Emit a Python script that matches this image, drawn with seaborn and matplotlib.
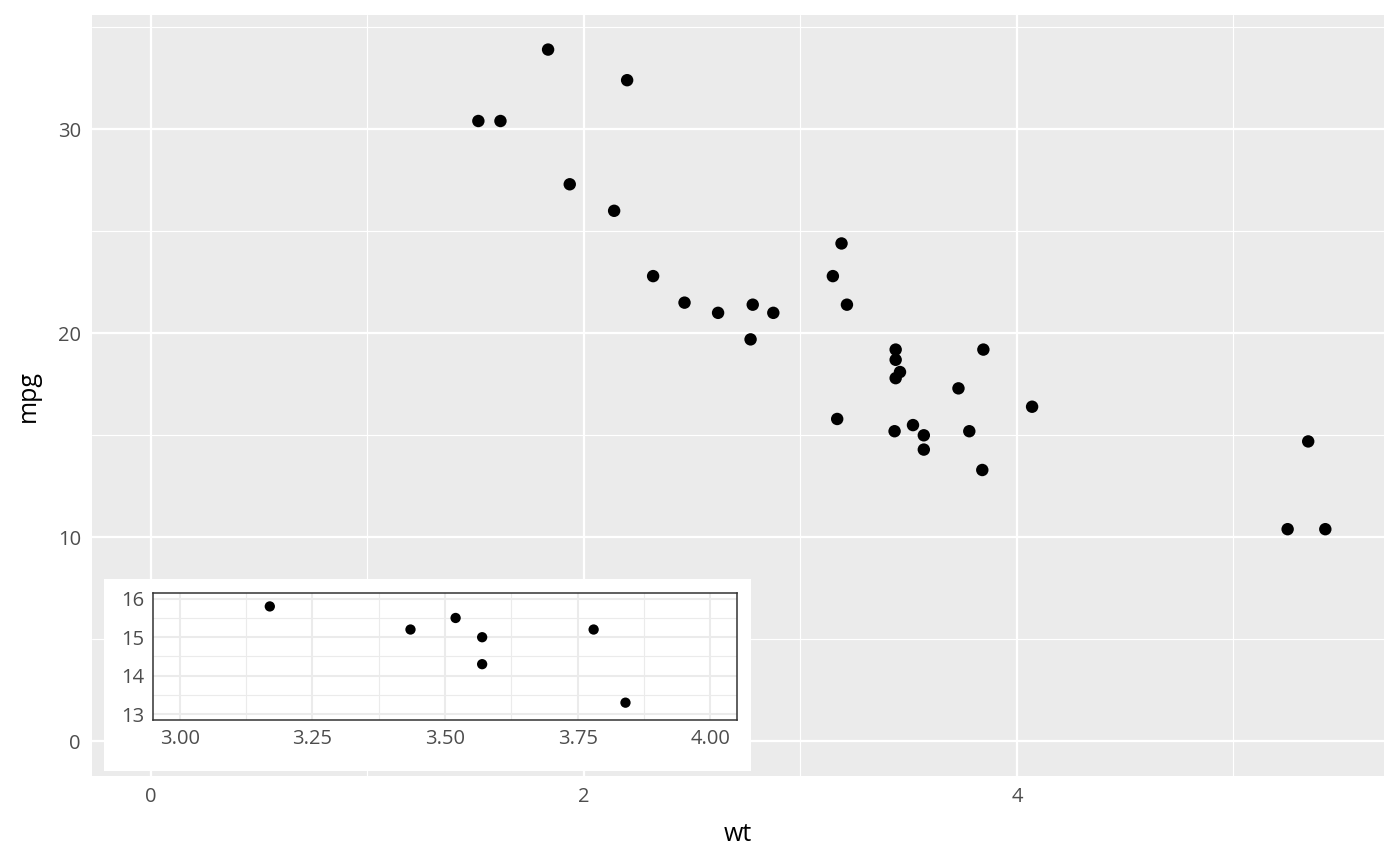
import matplotlib
matplotlib.use("Agg")
import matplotlib.pyplot as plt
from matplotlib.ticker import MultipleLocator
import seaborn as sns
import pandas as pd

# mtcars: weight (1000 lbs) and miles per gallon
wt = [2.620, 2.875, 2.320, 3.215, 3.440, 3.460, 3.570, 3.190, 3.150, 3.440,
      3.440, 4.070, 3.730, 3.780, 5.250, 5.424, 5.345, 2.200, 1.615, 1.835,
      2.465, 3.520, 3.435, 3.840, 3.845, 1.935, 2.140, 1.513, 3.170, 2.770,
      3.570, 2.780]
mpg = [21.0, 21.0, 22.8, 21.4, 18.7, 18.1, 14.3, 24.4, 22.8, 19.2,
       17.8, 16.4, 17.3, 15.2, 10.4, 10.4, 14.7, 32.4, 30.4, 33.9,
       21.5, 15.5, 15.2, 13.3, 19.2, 27.3, 26.0, 30.4, 15.8, 19.7,
       15.0, 21.4]

main_xticks = [0, 2, 4]
main_yticks = [0, 10, 20, 30]
inset_xticks = [3.00, 3.25, 3.50, 3.75, 4.00]
inset_xlabels = ["3.00", "3.25", "3.50", "3.75", "4.00"]
inset_yticks = [13, 14, 15, 16]
inset_xlim = (3, 4)
inset_ylim = (13, 16)

df = pd.DataFrame({"wt": wt, "mpg": mpg})
zoom = df[(df.wt >= inset_xlim[0]) & (df.wt <= inset_xlim[1]) &
          (df.mpg >= inset_ylim[0]) & (df.mpg <= inset_ylim[1])]

sns.set_theme(style="darkgrid")
plt.rcParams["font.family"] = ["Open Sans", "DejaVu Sans"]

fig = plt.figure(figsize=(14, 8.66), dpi=100)
fig.patch.set_facecolor("white")
ax = fig.add_axes([0.0657, 0.1039, 0.9229, 0.8788])

sns.scatterplot(data=df, x="wt", y="mpg", ax=ax, color="black", s=80,
                edgecolor="none", zorder=3)

def expand(lo, hi):
    pad = (hi - lo) * 0.05
    return lo - pad, hi + pad

ax.set_facecolor("#EBEBEB")
ax.set_xlim(expand(0, max(wt)))
ax.set_ylim(expand(0, max(mpg)))
ax.set_xticks(main_xticks)
ax.set_yticks(main_yticks)
ax.xaxis.set_minor_locator(MultipleLocator(1))
ax.yaxis.set_minor_locator(MultipleLocator(5))
ax.grid(which="major", color="white", linewidth=1.6)
ax.grid(which="minor", color="white", linewidth=0.8)
for s in ax.spines.values():
    s.set_visible(False)
ax.tick_params(which="major", length=5, width=1.5, color="#333333",
               labelcolor="#4D4D4D", labelsize=14.5, pad=3)
ax.tick_params(which="minor", length=0)
ax.set_xlabel("wt", fontsize=18, color="black", labelpad=11)
ax.set_ylabel("mpg", fontsize=18, color="black", labelpad=12)

# white background behind the inset
bg = fig.add_axes([0.0743, 0.1097, 0.4621, 0.2217])
bg.set_facecolor("white")
bg.set_xticks([])
bg.set_yticks([])
for s in bg.spines.values():
    s.set_visible(False)
bg.set_zorder(4)

ins = fig.add_axes([0.1093, 0.1686, 0.4171, 0.1467])
ins.set_zorder(5)
sns.scatterplot(data=zoom, x="wt", y="mpg", ax=ins, color="black", s=55,
                edgecolor="none", zorder=3)
ins.set_facecolor("white")
ins.set_xlim(expand(*inset_xlim))
ins.set_ylim(expand(*inset_ylim))
ins.set_xticks(inset_xticks)
ins.set_xticklabels(inset_xlabels)
ins.set_yticks(inset_yticks)
ins.xaxis.set_minor_locator(MultipleLocator(0.125))
ins.yaxis.set_minor_locator(MultipleLocator(0.5))
ins.grid(which="major", color="#EBEBEB", linewidth=1.5)
ins.grid(which="minor", color="#EBEBEB", linewidth=0.8)
for s in ins.spines.values():
    s.set_visible(True)
    s.set_color("#333333")
    s.set_linewidth(1.1)
ins.tick_params(which="major", length=4.5, width=1.5, color="#333333",
                labelcolor="#4D4D4D", labelsize=14.5, pad=2)
ins.tick_params(which="minor", length=0)
ins.set_xlabel("")
ins.set_ylabel("")

fig.savefig("out.png", dpi=100)
